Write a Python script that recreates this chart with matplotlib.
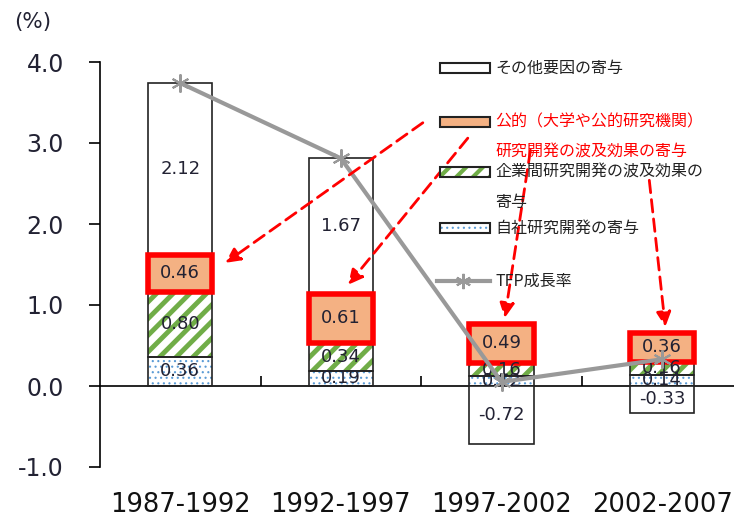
import matplotlib
matplotlib.use('Agg')
import matplotlib.pyplot as plt
from matplotlib.patches import Rectangle
from matplotlib.lines import Line2D

# data
periods = ['1987-1992', '1992-1997', '1997-2002', '2002-2007']
own_rd = [0.36, 0.19, 0.12, 0.14]
inter_firm = [0.80, 0.34, 0.16, 0.16]
public_rd = [0.46, 0.61, 0.49, 0.36]
other = [2.12, 1.67, -0.72, -0.33]
tfp = [3.74, 2.81, 0.05, 0.33]

legend_labels = ['その他要因の寄与',
                 '公的（大学や公的研究機関）\n研究開発の波及効果の寄与',
                 '企業間研究開発の波及効果の\n寄与',
                 '自社研究開発の寄与',
                 'TFP成長率']

W, H = 734, 518
fig = plt.figure(figsize=(W / 100, H / 100), dpi=100)
ax = fig.add_axes([100 / W, 1 - 467 / H, 1 - 100 / W, (467 - 62) / H])

x = list(range(len(periods)))
bw = 0.4
txt_color = '#222233'
green = '#70AD47'
blue = '#5B9BD5'
orange = '#F4B183'


def hatched(bars_x, heights, bottoms, color, hatch, hlw):
    with plt.rc_context({'hatch.linewidth': hlw}):
        bs = ax.bar(bars_x, heights, bw, bottom=bottoms, color='white',
                    edgecolor=color, hatch=hatch, linewidth=0, zorder=2)
        for b in bs:
            if hasattr(b, 'set_hatch_linewidth'):
                b.set_hatch_linewidth(hlw)
    ax.bar(bars_x, heights, bw, bottom=bottoms, fill=False,
           edgecolor='#222222', linewidth=1.2, zorder=3)


# own R&D (dots)
hatched(x, own_rd, 0, blue, '...', 0.8)
# inter-firm spillover (green stripes)
b2 = own_rd
hatched(x, inter_firm, b2, green, '//', 3.5)
# public spillover
b3 = [a + b for a, b in zip(own_rd, inter_firm)]
ax.bar(x, public_rd, bw, bottom=b3, color=orange, edgecolor='red',
       linewidth=4, zorder=4)
# other factors
b4 = [a + b for a, b in zip(b3, public_rd)]
b4 = [b if o > 0 else 0 for b, o in zip(b4, other)]
ax.bar(x, other, bw, bottom=b4, color='white', edgecolor='#222222',
       linewidth=1.2, zorder=3)

# value labels
for i in x:
    ax.text(i, own_rd[i] / 2, f'{own_rd[i]:.2f}', ha='center', va='center',
            fontsize=13, color=txt_color, zorder=6)
    ax.text(i, b2[i] + inter_firm[i] / 2, f'{inter_firm[i]:.2f}', ha='center',
            va='center', fontsize=13, color=txt_color, zorder=6)
    ax.text(i, b3[i] + public_rd[i] / 2, f'{public_rd[i]:.2f}', ha='center',
            va='center', fontsize=13, color=txt_color, zorder=6)
    ax.text(i, b4[i] + other[i] / 2, f'{other[i]:.2f}', ha='center',
            va='center', fontsize=13, color=txt_color, zorder=6)

# TFP line
ax.plot(x, tfp, color='#999999', lw=3, marker=(6, 2, 0), markersize=13,
        markeredgewidth=1.5, markeredgecolor='#999999', zorder=7)

# dashed red arrows from the legend entry
arrows = [((1.51, 3.25), (0.28, 1.52)),
          ((1.79, 3.06), (1.045, 1.25)),
          ((2.18, 2.91), (2.02, 0.84)),
          ((2.92, 2.54), (3.02, 0.73))]
for (sx, sy), (ex, ey) in arrows:
    ax.annotate('', xy=(ex, ey), xytext=(sx, sy), zorder=8,
                arrowprops=dict(arrowstyle='-|>', color='red', lw=2,
                                linestyle=(0, (4.5, 2.5)), mutation_scale=22,
                                shrinkA=0, shrinkB=0))

# axes styling
ax.set_xlim(-0.5, (W - 180) / 160.7)
ax.set_ylim(-1, 4)
ax.spines['top'].set_visible(False)
ax.spines['right'].set_visible(False)
ax.spines['bottom'].set_position(('data', 0))
ax.spines['left'].set_linewidth(1.2)
ax.spines['bottom'].set_linewidth(1.2)
ax.set_yticks([-1, 0, 1, 2, 3, 4])
ax.set_yticklabels([f'{v:.1f}' for v in [-1, 0, 1, 2, 3, 4]])
ax.tick_params(axis='y', direction='out', length=8, width=1.2,
               labelsize=17, pad=18, labelcolor=txt_color)
ax.set_xticks([])
ax.set_xticks([0.5, 1.5, 2.5], minor=True)
ax.tick_params(axis='x', which='minor', direction='in', length=7, width=1.2)
for i, p in enumerate(periods):
    ax.text(i, -1.47, p, ha='center', va='center', fontsize=18.5,
            color='#111111', clip_on=False)
fig.text(33 / W, 1 - 22 / H, '(%)', ha='center', va='center', fontsize=15.5,
         color=txt_color)

# legend drawn by hand
cjk = ['Noto Sans CJK JP', 'DejaVu Sans']
rows = [68, 122, 172, 228, 281]


def fx(px):
    return px / W


def fy(py):
    return 1 - py / H


def box(py, face, edge, hatch=None, hlw=1.0):
    if hatch:
        with plt.rc_context({'hatch.linewidth': hlw}):
            r = Rectangle((fx(440), fy(py + 5)), 50 / W, 10 / H,
                          transform=fig.transFigure, facecolor='white',
                          edgecolor=edge, hatch=hatch, linewidth=0)
            if hasattr(r, 'set_hatch_linewidth'):
                r.set_hatch_linewidth(hlw)
            fig.patches.append(r)
        fig.patches.append(Rectangle((fx(440), fy(py + 5)), 50 / W, 10 / H,
                                     transform=fig.transFigure, fill=False,
                                     edgecolor='#222222', linewidth=1.5))
    else:
        fig.patches.append(Rectangle((fx(440), fy(py + 5)), 50 / W, 10 / H,
                                     transform=fig.transFigure, facecolor=face,
                                     edgecolor='#222222', linewidth=1.5))


box(rows[0], 'white', '#222222')
box(rows[1], orange, '#222222')
box(rows[2], None, green, '//', 3.0)
box(rows[3], None, blue, '...', 0.8)
fig.lines.append(Line2D([fx(437), fx(490)], [fy(rows[4]), fy(rows[4])],
                        transform=fig.transFigure, color='#999999', lw=3,
                        zorder=5))
fig.lines.append(Line2D([fx(463)], [fy(rows[4])], transform=fig.transFigure,
                        color='#999999', marker=(6, 2, 0), markersize=11,
                        markeredgewidth=1.5, zorder=5))

text_colors = ['#222222', 'red', '#222222', '#222222', '#222222']
for lab, py, c in zip(legend_labels, rows, text_colors):
    for k, line in enumerate(lab.split('\n')):
        fig.text(fx(495), fy(py + 30 * k), line, ha='left', va='center',
                 fontsize=11.5, color=c, family=cjk)

fig.savefig('out.png', dpi=100)
